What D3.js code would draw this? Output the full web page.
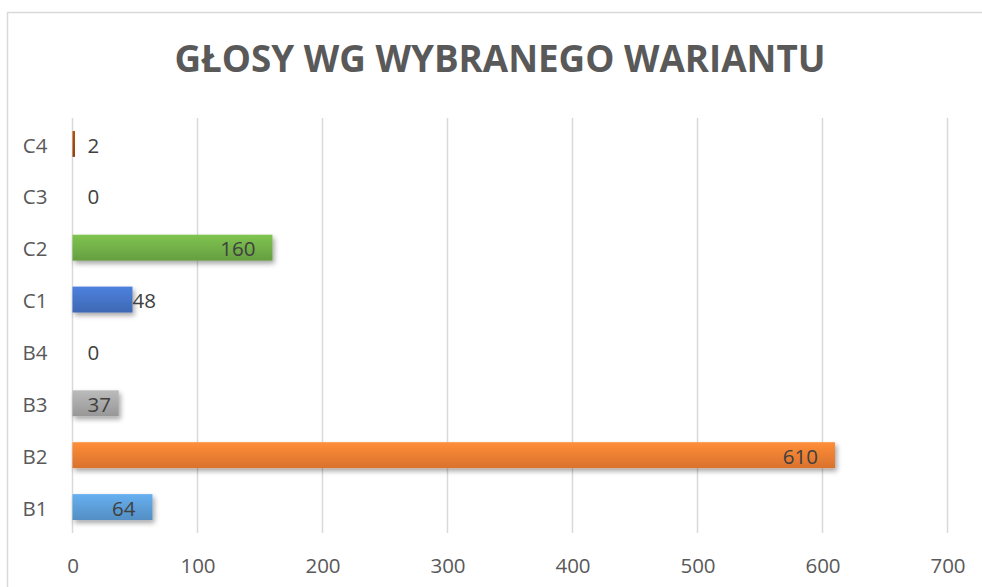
<!DOCTYPE html>
<html>
<head>
<meta charset="utf-8">
<script src="https://cdn.jsdelivr.net/npm/d3@7"></script>
<style>
  body { margin: 0; background: #fff; }
  svg { display: block; }
</style>
</head>
<body>
<div id="chart"></div>
<script>
// data, bottom to top as in the reference
const categories = ["B1", "B2", "B3", "B4", "C1", "C2", "C3", "C4"];
const votes = [64, 610, 37, 0, 48, 160, 0, 2];
const barColors = ["#5B9BD5", "#ED7D31", "#A5A5A5", "#FFC000", "#4472C4", "#70AD47", "#264478", "#9E480E"];
const xTicks = [0, 100, 200, 300, 400, 500, 600, 700];
const title = "GŁOSY WG WYBRANEGO WARIANTU";
// points whose label sits past the end of the bar
const labelsOutside = ["B4", "C1", "C3", "C4"];

const W = 982, H = 587;
const margin = { top: 118, right: 34.5, bottom: 54, left: 72.5 };
const width = W - margin.left - margin.right;
const height = H - margin.top - margin.bottom;
const font = "Open Sans, sans-serif";

const svg = d3.select("#chart").append("svg")
    .attr("width", W)
    .attr("height", H);

const defs = svg.append("defs");

// gradient per colour, lighter on top
barColors.forEach((c, i) => {
    const gr = defs.append("linearGradient")
        .attr("id", "grad" + i)
        .attr("x1", 0).attr("y1", 0).attr("x2", 0).attr("y2", 1);
    gr.append("stop").attr("offset", "0%").attr("stop-color", d3.color(c).brighter(0.35));
    gr.append("stop").attr("offset", "100%").attr("stop-color", d3.color(c).darker(0.25));
});

const shadow = defs.append("filter").attr("id", "shadow")
    .attr("x", "-10%").attr("y", "-30%").attr("width", "130%").attr("height", "180%");
shadow.append("feDropShadow")
    .attr("dx", 2).attr("dy", 3).attr("stdDeviation", 2.5)
    .attr("flood-color", "#000").attr("flood-opacity", 0.35);

// chart frame
svg.append("rect")
    .attr("x", 7.5).attr("y", 12.5)
    .attr("width", W).attr("height", H)
    .attr("fill", "#fff")
    .attr("stroke", "#d9d9d9")
    .attr("stroke-width", 1.5);

svg.append("text")
    .attr("x", 500)
    .attr("y", 72)
    .attr("text-anchor", "middle")
    .attr("font-family", font)
    .attr("font-weight", "bold")
    .attr("font-size", 37)
    .attr("fill", "#595959")
    .attr("textLength", 651)
    .attr("lengthAdjust", "spacingAndGlyphs")
    .text(title);

const g = svg.append("g")
    .attr("transform", `translate(${margin.left},${margin.top})`);

const x = d3.scaleLinear()
    .domain([0, 700])
    .range([0, width]);

const y = d3.scaleBand()
    .domain(categories)
    .range([height, 0])
    .paddingInner(0.5)
    .paddingOuter(0.25);

// gridlines
g.selectAll(".grid")
    .data(xTicks)
    .enter()
    .append("line")
    .attr("x1", d => x(d)).attr("x2", d => x(d))
    .attr("y1", 0).attr("y2", height)
    .attr("stroke", "#d9d9d9")
    .attr("stroke-width", 1.5);

// x axis labels
const xAxis = g.append("g")
    .attr("transform", `translate(0,${height})`)
    .call(d3.axisBottom(x).tickValues(xTicks).tickSize(0).tickPadding(25));
xAxis.select(".domain").remove();
xAxis.selectAll("text")
    .attr("font-family", font)
    .attr("font-size", 20.5)
    .attr("fill", "#595959");

// y axis labels
const yAxis = g.append("g")
    .call(d3.axisLeft(y).tickSize(0).tickPadding(25));
yAxis.select(".domain").remove();
yAxis.selectAll("text")
    .attr("dy", "0.42em")
    .attr("font-family", font)
    .attr("font-size", 20.5)
    .attr("fill", "#595959");

const rows = categories.map((c, i) => ({ cat: c, value: votes[i], idx: i }));

// bars
g.selectAll(".bar")
    .data(rows)
    .enter()
    .append("rect")
    .classed("bar", true)
    .attr("x", x(0))
    .attr("y", d => y(d.cat))
    .attr("width", d => x(d.value) - x(0))
    .attr("height", y.bandwidth())
    .attr("fill", d => `url(#grad${d.idx})`)
    .attr("filter", d => d.value > 5 ? "url(#shadow)" : null);

// data labels
const labels = g.selectAll(".lbl")
    .data(rows)
    .enter()
    .append("text")
    .classed("lbl", true)
    .attr("y", d => y(d.cat) + y.bandwidth() / 2)
    .attr("dy", "0.42em")
    .attr("font-family", font)
    .attr("font-size", 20.5)
    .attr("fill", "#404040")
    .text(d => d.value);

labels.each(function(d) {
    const t = d3.select(this);
    const tw = this.getComputedTextLength();
    if (labelsOutside.includes(d.cat)) {
        t.attr("x", Math.max(x(d.value), x(0) + 15));
    } else {
        t.attr("x", Math.max(x(d.value) - 17, x(0) + 15 + tw))
         .attr("text-anchor", "end");
    }
});
</script>
</body>
</html>
